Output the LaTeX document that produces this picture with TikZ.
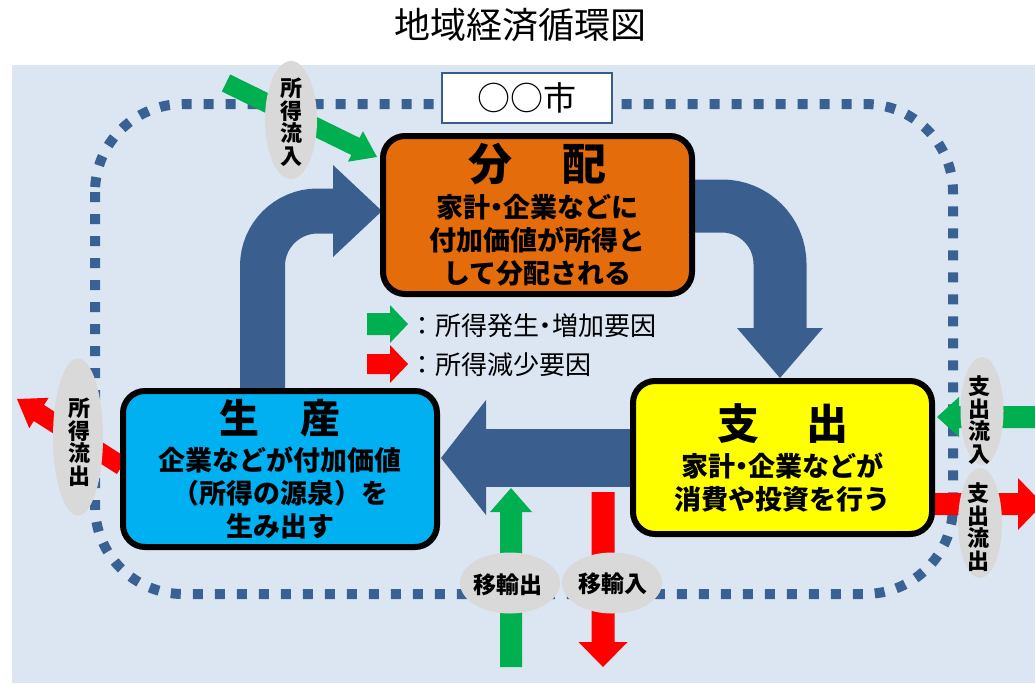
\documentclass[tikz,border=0pt]{standalone}
\usepackage{fontspec}
\setmainfont{Noto Sans CJK JP}
\usetikzlibrary{calc,shapes.geometric}
\definecolor{bgblue}{HTML}{DCE6F2}
\definecolor{dotblue}{HTML}{3A6193}
\definecolor{bigblue}{HTML}{3A5F8F}
\definecolor{orng}{HTML}{E46C0A}
\definecolor{ylw}{HTML}{FFFF00}
\definecolor{cyn}{HTML}{00B0F0}
\definecolor{grn}{HTML}{00B050}
\definecolor{rd}{HTML}{FF0000}
\definecolor{lgray}{HTML}{D9D9D9}
\definecolor{cityborder}{HTML}{385D8A}
% narrow middle dot
\newcommand\ndot{\kern-0.25em・\kern-0.25em}
% block arrow: #1 colour, #2 from, #3 to, #4 half shaft, #5 half head, #6 head length
\newcommand\flatarrow[6]{%
  \path ($(#3)!#6!(#2)$) coordinate (fa-h);
  \fill[#1] ($(#2)!#4!90:(#3)$) -- ($(fa-h)!#4!90:(#3)$) -- ($(fa-h)!#5!90:(#3)$)
    -- (#3) -- ($(fa-h)!#5!-90:(#3)$) -- ($(fa-h)!#4!-90:(#3)$) -- ($(#2)!#4!-90:(#3)$) -- cycle;}
\begin{document}
\begin{tikzpicture}[x=1pt,y=-1pt,
  mainbox/.style={draw=black, line width=6pt, rounded corners=22pt, align=center,
    inner sep=0pt, font=\fontsize{27}{33}\selectfont\bfseries},
  lblell/.style={ellipse, fill=lgray, inner sep=0pt},
  vtext/.style={align=center, inner sep=0pt, font=\fontsize{22}{22.5}\selectfont\bfseries},
  htext/.style={inner sep=0pt, font=\fontsize{23}{23}\selectfont\bfseries},
  legtext/.style={anchor=west, inner sep=0pt, font=\fontsize{26}{26}\selectfont}]
\useasboundingbox (0,0) rectangle (1035,683);
\clip (0,0) rectangle (1035,683);
% title
\node[font=\fontsize{36}{36}\selectfont] (title) at (520,25) {地域経済循環図};
% background
\fill[bgblue] (12,65) rectangle (1035,683);
% city boundary
\draw[dotblue, line width=10pt, dash pattern=on 10pt off 12pt, rounded corners=88pt]
  (95,104) rectangle (953,594);
\node[draw=cityborder, line width=2pt, fill=white, minimum width=170pt, minimum height=50pt,
  inner sep=0pt, font=\fontsize{33}{33}\selectfont] (city) at (527,98) {○○市};
% boxes (positions)
\path (537.5,215) coordinate (distc) (782.5,457.5) coordinate (spc) (280,469) coordinate (prodc);
% big arrows
\draw[bigblue, line width=45pt, rounded corners=55pt] (262.5,394) -- (262.5,211) -- (336,211);
\fill[bigblue] (333,165) -- (382,211) -- (333,257) -- cycle;
\draw[bigblue, line width=53pt, rounded corners=58pt] (690,206) -- (780,206) -- (780,332);
\fill[bigblue] (737,328) -- (823,328) -- (780,378) -- cycle;
\draw[bigblue, line width=58pt] (636,458) -- (484,458);
\fill[bigblue] (486,400) -- (486,515) -- (441,458) -- cycle;
% thin arrows
\coordinate (inA) at (226,83);   \coordinate (inB) at (377,157);
\coordinate (outA) at (122,466); \coordinate (outB) at (17,399);
\coordinate (spinA) at (1040,417); \coordinate (spinB) at (937,417);
\coordinate (spoutA) at (935,504); \coordinate (spoutB) at (1043,504);
\coordinate (exA) at (511,667); \coordinate (exB) at (511,488);
\coordinate (imA) at (603,492); \coordinate (imB) at (603,667);
\flatarrow{rd}{outA}{outB}{9.5pt}{18pt}{26pt}
\flatarrow{rd}{spoutA}{spoutB}{11pt}{26pt}{25pt}
% boxes
\node[mainbox, fill=orng, minimum width=309pt, minimum height=158pt] (dist) at (distc)
  {{\fontsize{44}{44}\selectfont 分\hspace{50pt}配}\\[4pt]家計\ndot 企業などに\\付加価値が所得と\\して分配される};
\node[mainbox, fill=ylw, minimum width=299pt, minimum height=153pt] (sp) at (spc)
  {{\fontsize{42}{42}\selectfont 支\hspace{47pt}出}\\[4pt]家計\ndot 企業などが\\消費や投資を行う};
\node[mainbox, fill=cyn, minimum width=314pt, minimum height=156pt] (prod) at (prodc)
  {{\fontsize{40}{40}\selectfont 生\hspace{42pt}産}\\[4pt]企業などが付加価値\\（所得の源泉）を\\生み出す};
\flatarrow{grn}{inA}{inB}{9.5pt}{17pt}{24pt}
\flatarrow{grn}{spinA}{spinB}{11pt}{20pt}{22pt}
\flatarrow{grn}{exA}{exB}{11pt}{21pt}{24pt}
\flatarrow{rd}{imA}{imB}{11.5pt}{24.5pt}{25pt}
% labels
\node[lblell, minimum width=52pt, minimum height=118pt] (inE) at (291,120) {};
\node[vtext] (inT) at (291,122) {所\\得\\流\\入};
\node[lblell, minimum width=50pt, minimum height=157pt] (outE) at (78,437) {};
\node[vtext] (outT) at (79,442) {所\\得\\流\\出};
\node[lblell, minimum width=43pt, minimum height=108pt] (spinE) at (982,411) {};
\node[vtext] (spinT) at (979,420) {支\\出\\流\\入};
\node[lblell, minimum width=44pt, minimum height=110pt] (spoutE) at (980,523) {};
\node[vtext] (spoutT) at (978,527) {支\\出\\流\\出};
\node[lblell, minimum width=100pt, minimum height=61pt] (exE) at (510,583) {};
\node[htext] (exT) at (508,585) {移輸出};
\node[lblell, minimum width=100pt, minimum height=61pt] (imE) at (612,583) {};
\node[htext] (imT) at (613,584) {移輸入};
% legend
\coordinate (lgA) at (367,324); \coordinate (lgB) at (408,324);
\coordinate (lrA) at (367,364); \coordinate (lrB) at (408,364);
\flatarrow{grn}{lgA}{lgB}{11pt}{19pt}{18pt}
\flatarrow{rd}{lrA}{lrB}{10pt}{19pt}{18pt}
\node[legtext] (leg1) at (409,326) {：所得発生\ndot 増加要因};
\node[legtext] (leg2) at (409,365) {：所得減少要因};
\end{tikzpicture}
\end{document}
